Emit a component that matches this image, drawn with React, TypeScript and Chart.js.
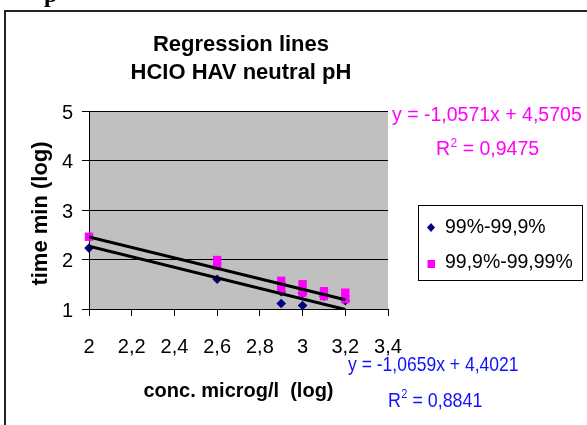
import React, { useEffect, useRef } from 'react';
import { Chart, registerables } from 'chart.js';

Chart.register(...registerables);

// ---- data ----
const xTicks = [2, 2.2, 2.4, 2.6, 2.8, 3, 3.2, 3.4];
const yTicks = [1, 2, 3, 4, 5];
const series1Name = '99%-99,9%';
const series2Name = '99,9%-99,99%';
const series1X = [2, 2.6, 2.9, 2.9, 3.0, 3.0, 3.1, 3.2];
const series1Y = [2.23, 1.6, 1.11, 1.35, 1.07, 1.32, 1.26, 1.17];
const series2X = [2, 2.6, 2.6, 2.9, 2.9, 3.0, 3.0, 3.1, 3.1, 3.2, 3.2];
const series2Y = [2.46, 1.99, 1.87, 1.57, 1.4, 1.5, 1.33, 1.36, 1.26, 1.33, 1.2];
const trend1X = [2, 3.2];
const trend1Y = [2.27, 0.99];
const trend2X = [2, 3.2];
const trend2Y = [2.456, 1.188];
const titleLines = ['Regression lines', 'HCIO HAV neutral pH'];
const xTitle = 'conc. microg/l  (log)';
const yTitle = 'time min (log)';
const eq1Line = 'y = -1,0659x + 4,4021';
const eq1R2 = '0,8841';
const eq2Line = 'y = -1,0571x + 4,5705';
const eq2R2 = '0,9475';

const FONT = "'Liberation Sans', Arial, Helvetica, sans-serif";
const NAVY = '#000080';
const MAGENTA = '#FF00FF';
const BLUE = '#1010FF';

const pts = (xs: number[], ys: number[]) => xs.map((x, i) => ({ x, y: ys[i] }));

function drawR2(ctx: CanvasRenderingContext2D, x: number, y: number, val: string, size: number, color: string, sx: number) {
  ctx.save();
  ctx.translate(x, y);
  ctx.scale(sx, 1);
  ctx.fillStyle = color;
  ctx.textAlign = 'left';
  ctx.textBaseline = 'alphabetic';
  ctx.font = `${size}px ${FONT}`;
  ctx.fillText('R', 0, 0);
  let w = ctx.measureText('R').width;
  ctx.font = `${Math.round(size * 0.62)}px ${FONT}`;
  ctx.fillText('2', w + 0.5, -size * 0.42);
  w += ctx.measureText('2').width + 0.5;
  ctx.font = `${size}px ${FONT}`;
  ctx.fillText(' = ' + val, w, 0);
  ctx.restore();
}

function drawText(ctx: CanvasRenderingContext2D, x: number, y: number, text: string, font: string, color: string, sx = 1, align: CanvasTextAlign = 'left') {
  ctx.save();
  ctx.translate(x, y);
  ctx.scale(sx, 1);
  ctx.fillStyle = color;
  ctx.font = font;
  ctx.textAlign = align;
  ctx.textBaseline = 'alphabetic';
  ctx.fillText(text, 0, 0);
  ctx.restore();
}

const decor = {
  id: 'decor',
  beforeDraw(chart: any) {
    const { ctx, chartArea: a } = chart;
    ctx.save();
    ctx.fillStyle = '#ffffff';
    ctx.fillRect(0, 0, chart.width, chart.height);
    ctx.fillStyle = '#C0C0C0';
    ctx.fillRect(a.left, a.top, a.right - a.left, a.bottom - a.top);
    ctx.restore();
  },
  afterDraw(chart: any) {
    const ctx: CanvasRenderingContext2D = chart.ctx;
    ctx.save();
    // frame
    ctx.strokeStyle = '#222';
    ctx.lineWidth = 2;
    ctx.beginPath();
    ctx.moveTo(5, chart.height);
    ctx.lineTo(5, 11);
    ctx.lineTo(chart.width, 11);
    ctx.stroke();
    // cut-off heading glyph
    drawText(ctx, 44, 2, 'p', "bold 24px 'Liberation Serif', serif", '#000');
    // title
    drawText(ctx, 241, 51, titleLines[0], `bold 22px ${FONT}`, '#000', 1, 'center');
    drawText(ctx, 241, 79, titleLines[1], `bold 22px ${FONT}`, '#000', 1, 'center');
    // x title
    drawText(ctx, 238.5, 397, xTitle, `bold 20px ${FONT}`, '#000', 1, 'center');
    // y title
    ctx.save();
    ctx.translate(46.5, 213.5);
    ctx.rotate(-Math.PI / 2);
    ctx.fillStyle = '#000';
    ctx.font = `bold 22px ${FONT}`;
    ctx.textAlign = 'center';
    ctx.textBaseline = 'alphabetic';
    ctx.fillText(yTitle, 0, 0);
    ctx.restore();
    // legend
    ctx.fillStyle = '#fff';
    ctx.fillRect(418, 205, 164, 75);
    ctx.strokeStyle = '#000';
    ctx.lineWidth = 1;
    ctx.strokeRect(418.5, 205.5, 164, 75);
    ctx.fillStyle = NAVY;
    ctx.beginPath();
    ctx.moveTo(431, 223);
    ctx.lineTo(435, 227.5);
    ctx.lineTo(431, 232);
    ctx.lineTo(427, 227.5);
    ctx.closePath();
    ctx.fill();
    ctx.fillStyle = MAGENTA;
    ctx.fillRect(427.5, 260, 7.5, 8);
    drawText(ctx, 445, 233, series1Name, `20.5px ${FONT}`, '#000', 0.95);
    drawText(ctx, 445, 268, series2Name, `20.5px ${FONT}`, '#000', 0.95);
    // equations
    drawText(ctx, 392, 120.5, eq2Line, `19.5px ${FONT}`, MAGENTA);
    drawR2(ctx, 436, 155, eq2R2, 19.5, MAGENTA, 1);
    drawText(ctx, 348, 371, eq1Line, `21px ${FONT}`, BLUE, 0.835);
    drawR2(ctx, 388, 406.5, eq1R2, 21, BLUE, 0.85);
    ctx.restore();
  },
};

export default function App() {
  const ref = useRef<HTMLCanvasElement>(null);
  useEffect(() => {
    if (!ref.current) return;
    const chart = new Chart(ref.current, {
      type: 'scatter',
      data: {
        datasets: [
          {
            label: 'trend2',
            data: pts(trend2X, trend2Y),
            showLine: true,
            borderColor: '#000',
            borderWidth: 3,
            pointRadius: 0,
            order: 0,
          },
          {
            label: 'trend1',
            data: pts(trend1X, trend1Y),
            showLine: true,
            borderColor: '#000',
            borderWidth: 3,
            pointRadius: 0,
            order: 1,
          },
          {
            label: series2Name,
            data: pts(series2X, series2Y),
            pointStyle: 'rect',
            pointRadius: 5.9,
            backgroundColor: MAGENTA,
            borderColor: MAGENTA,
            borderWidth: 0,
            clip: false,
            order: 2,
          },
          {
            label: series1Name,
            data: pts(series1X, series1Y),
            pointStyle: 'rectRot',
            pointRadius: 4.8,
            backgroundColor: NAVY,
            borderColor: NAVY,
            borderWidth: 0,
            clip: false,
            order: 3,
          },
        ],
      },
      plugins: [decor],
      options: {
        animation: false,
        responsive: false,
        events: [],
        layout: { padding: { left: 0, top: 111, right: 199, bottom: 0 } },
        plugins: {
          legend: { display: false },
          title: { display: false },
          tooltip: { enabled: false },
        },
        scales: {
          x: {
            type: 'linear',
            min: xTicks[0],
            max: xTicks[xTicks.length - 1],
            afterBuildTicks: (s: any) => {
              s.ticks = xTicks.map((v) => ({ value: v }));
            },
            afterFit: (s: any) => {
              s.height = 116;
            },
            grid: { display: true, drawOnChartArea: false, drawTicks: true, tickLength: 7, color: '#000', lineWidth: 1 },
            border: { display: true, color: '#000', width: 1 },
            ticks: {
              color: '#000',
              font: { family: FONT, size: 20 },
              padding: 19,
              maxRotation: 0,
              autoSkip: false,
              callback: (v: any) => String(v).replace('.', ','),
            },
          },
          y: {
            type: 'linear',
            min: yTicks[0],
            max: yTicks[yTicks.length - 1],
            afterBuildTicks: (s: any) => {
              s.ticks = yTicks.map((v) => ({ value: v }));
            },
            afterFit: (s: any) => {
              s.width = 89;
            },
            grid: { display: true, drawTicks: true, tickLength: 7, color: '#000', lineWidth: 1 },
            border: { display: true, color: '#000', width: 1 },
            ticks: {
              color: '#000',
              font: { family: FONT, size: 20 },
              padding: 9,
              labelOffset: 2,
              callback: (v: any) => String(v),
            },
          },
        },
      } as any,
    });
    return () => chart.destroy();
  }, []);
  return (
    <div style={{ position: 'absolute', left: 0, top: 0, width: 587, height: 425 }}>
      <canvas ref={ref} width={587} height={425} style={{ display: 'block', width: 587, height: 425 }} />
    </div>
  );
}
